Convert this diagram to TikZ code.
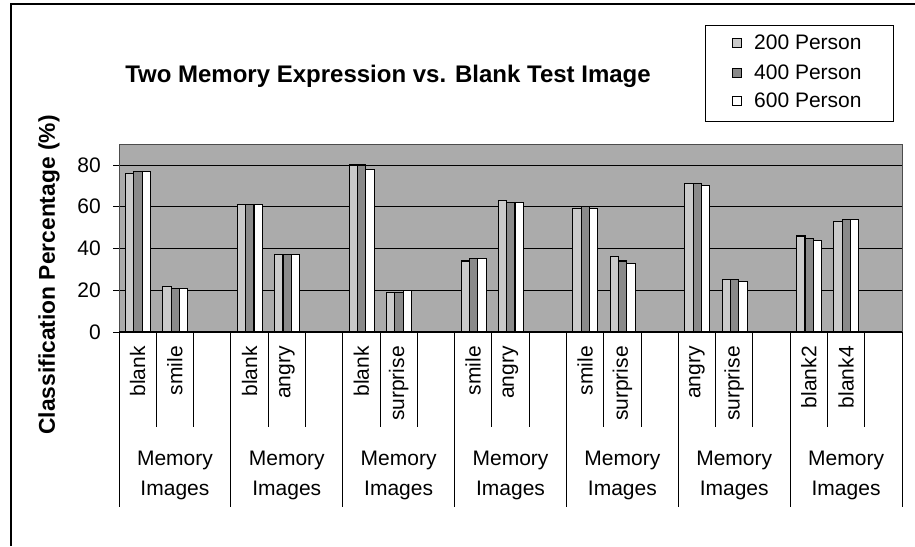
\documentclass[tikz,border=0pt]{standalone}
\usepackage{fontspec}
\setmainfont{Liberation Sans}
\definecolor{plotbg}{HTML}{ABABAB}
\definecolor{fillA}{HTML}{CACACA}
\definecolor{fillB}{HTML}{8A8A8A}
\begin{document}
\begin{tikzpicture}[x=1pt,y=-1pt,
  lbl/.style={font=\fontsize{21}{30}\selectfont, inner sep=0pt},
  ttl/.style={font=\bfseries\fontsize{24}{28}\selectfont, inner sep=0pt},
  barA/.style={fill=fillA, draw=black, line width=1.1pt},
  barB/.style={fill=fillB, draw=black, line width=1.1pt},
  barC/.style={fill=white, draw=black, line width=1.1pt},
  grid/.style={draw=black, line width=0.6pt},
  sep/.style={draw=black, line width=0.8pt},
  mark200/.style={fill=fillA, draw=black, line width=0.9pt},
  mark400/.style={fill=fillB, draw=black, line width=0.9pt},
  mark600/.style={fill=white, draw=black, line width=0.9pt}]
\useasboundingbox (0,0) rectangle (915,546);
\fill[white] (0,0) rectangle (915,546);
% outer frame
\coordinate (fbl) at (11,546);
\coordinate (ftl) at (11,4);
\coordinate (ftr) at (915,4);
\draw[line width=1.2pt] (fbl) -- (ftl) -- (ftr);
% plot area
\coordinate (pa) at (119,144);
\coordinate (pb) at (902,332);
\fill[plotbg] (pa) rectangle (pb);
\foreach \v in {20,40,60,80} {
  \draw[grid] (119,{332-\v*2.0875}) -- (902,{332-\v*2.0875});
}
% bars
\foreach \k/\a/\b/\c in {0/76/77/77, 1/22/21/21, 3/61/61/61, 4/37/37/37,
  6/80/80/78, 7/19/19/20, 9/34/35/35, 10/63/62/62, 12/59/60/59, 13/36/34/33,
  15/71/71/70, 16/25/25/24, 18/46/45/44, 19/53/54/54} {
  \pgfmathsetmacro\xl{119+\k*37.286+6.5}
  \draw[barA] (\xl,332) rectangle ({\xl+8.33},{332-\a*2.0875});
  \draw[barB] ({\xl+8.33},332) rectangle ({\xl+16.66},{332-\b*2.0875});
  \draw[barC] ({\xl+16.66},332) rectangle ({\xl+25},{332-\c*2.0875});
}
\draw[draw=black!70, line width=0.6pt] (pa) rectangle (pb);
% zero axis
\draw[black, line width=1.5pt] (119,332) -- (902,332);
% y ticks and labels
\foreach \v in {0,20,40,60,80} {
  \draw[black, line width=0.8pt] (113,{332-\v*2.0875}) -- (119,{332-\v*2.0875});
  \node[lbl, anchor=east] (y\v) at (101,{332-\v*2.0875}) {\v};
}
% separators below axis
\foreach \k in {0,...,21} {
  \pgfmathtruncatemacro\m{mod(\k,3)}
  \ifnum\m=0
    \draw[sep] ({119+\k*37.286},332) -- ({119+\k*37.286},507);
  \else
    \draw[sep] ({119+\k*37.286},332) -- ({119+\k*37.286},427);
  \fi
}
% category labels
\foreach \k/\t in {0/blank,1/smile,3/blank,4/angry,6/blank,7/surprise,9/smile,
  10/angry,12/smile,13/surprise,15/angry,16/surprise,18/blank2,19/blank4} {
  \node[lbl, rotate=90, anchor=east] (c\k) at ({119+(\k+0.5)*37.286},346) {\t};
}
% group labels
\foreach \g in {0,...,6} {
  \node[lbl, align=center] (g\g) at ({119+(3*\g+1.5)*37.286},475) {Memory\\Images};
}
% axis title
\node[font=\bfseries\fontsize{22.8}{27}\selectfont, inner sep=0pt, rotate=90] (ytitle) at (49,275) {Classification Percentage (\%)};
% title
\node[ttl] (title) at (388,76) {Two Memory Expression vs. Blank Test Image};
% legend
\draw[black, line width=0.9pt] (705,25) rectangle (893,121);
\draw[mark200] (732,38) rectangle (741,47);
\draw[mark400] (732,68) rectangle (741,77);
\draw[mark600] (732,96) rectangle (741,105);
\node[lbl, anchor=west] (l1) at (754,42) {200 Person};
\node[lbl, anchor=west] (l2) at (754,72) {400 Person};
\node[lbl, anchor=west] (l3) at (754,100) {600 Person};
\end{tikzpicture}
\end{document}
